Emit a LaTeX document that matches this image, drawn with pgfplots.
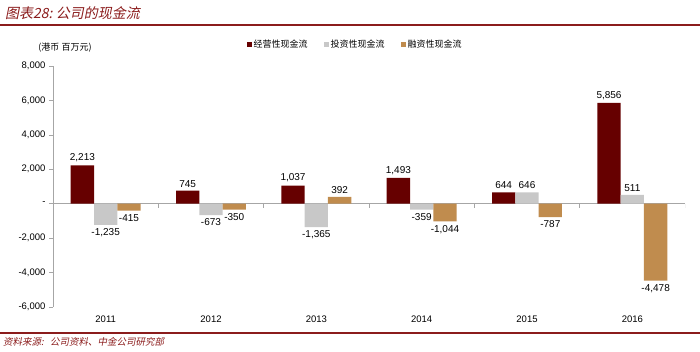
\documentclass[border=0pt]{standalone}
\usepackage{pgfplots}
\pgfplotsset{compat=1.18}
\usepackage{fontspec}
\setmainfont{Liberation Sans}
\newfontfamily\cjk[FakeSlant=0.2]{Noto Sans CJK SC}
\newfontfamily\cjkn{Noto Sans CJK SC}
\definecolor{opc}{HTML}{660000}
\definecolor{invc}{HTML}{C8C8C8}
\definecolor{finc}{HTML}{C08C4E}
\definecolor{titlered}{HTML}{8B1C1C}
\definecolor{axisgray}{HTML}{A6A6A6}
\begin{document}
\begin{tikzpicture}[x=1pt,y=1pt]
\useasboundingbox (0,0) rectangle (700,352);
\node[anchor=west, text=titlered, inner sep=0pt] at (5,339) {\cjk\fontsize{14}{16}\selectfont 图表28:\ 公司的现金流};
\draw[titlered, line width=1.2pt] (0,327) -- (700,327);
\draw[titlered, line width=1.2pt] (0,19) -- (700,19);
\node[anchor=west, text=titlered, inner sep=0pt] at (3,10) {\cjk\fontsize{9.5}{11}\selectfont 资料来源:\ \ \ 公司资料、中金公司研究部};
\node[inner sep=0pt] at (65,304) {\cjkn\fontsize{9}{10}\selectfont (港币 百万元)};
\begin{axis}[
  at={(53pt,45.3pt)}, anchor=south west,
  scale only axis, width=632pt, height=240.7pt,
  xmin=-0.5, xmax=5.5, ymin=-6000, ymax=8000,
  ybar=0pt, bar width=23.3pt,
  axis y line*=left, axis x line*=bottom,
  x axis line style={draw=none},
  y axis line style={axisgray},
  xtick={0,1,2,3,4,5},
  xticklabels={2011,2012,2013,2014,2015,2016},
  x tick style={draw=none},
  xticklabel style={font=\fontsize{9.5}{11}\selectfont, yshift=-2pt},
  ytick={-6000,-4000,-2000,0,2000,4000,6000,8000},
  yticklabels={{-6,000},{-4,000},{-2,000},{-},{2,000},{4,000},{6,000},{8,000}},
  yticklabel style={font=\fontsize{9.5}{11}\selectfont},
  y tick style={axisgray},
  tick align=outside, major tick length=4pt,
  nodes near coords={\pgfmathprintnumber[fixed,precision=0,1000 sep={,},assume math mode=true]{\pgfplotspointmeta}},
  every node near coord/.append style={font=\fontsize{10}{11}\selectfont, text=black},
  legend style={at={(0.478,1.091)}, anchor=center, draw=none, fill=none,
    legend columns=3, font=\cjkn\fontsize{9}{10}\selectfont,
    /tikz/every even column/.append style={column sep=14pt}},
  legend image code/.code={\fill[#1] (0pt,-2.5pt) rectangle (5pt,2.5pt);},
]
\draw[axisgray] (axis cs:-0.5,0) -- (axis cs:5.5,0);
\draw[axisgray] (axis cs:0.5,0) -- ++(0pt,-4pt);
\draw[axisgray] (axis cs:1.5,0) -- ++(0pt,-4pt);
\draw[axisgray] (axis cs:2.5,0) -- ++(0pt,-4pt);
\draw[axisgray] (axis cs:3.5,0) -- ++(0pt,-4pt);
\draw[axisgray] (axis cs:4.5,0) -- ++(0pt,-4pt);
\draw[axisgray] (axis cs:5.5,0) -- ++(0pt,-4pt);
\addplot[fill=opc, draw=none] coordinates {(0,2213) (1,745) (2,1037) (3,1493) (4,644) (5,5856)};
\addplot[fill=invc, draw=none] coordinates {(0,-1235) (1,-673) (2,-1365) (3,-359) (4,646) (5,511)};
\addplot[fill=finc, draw=none] coordinates {(0,-415) (1,-350) (2,392) (3,-1044) (4,-787) (5,-4478)};
\legend{经营性现金流,投资性现金流,融资性现金流}
\end{axis}
\end{tikzpicture}
\end{document}
